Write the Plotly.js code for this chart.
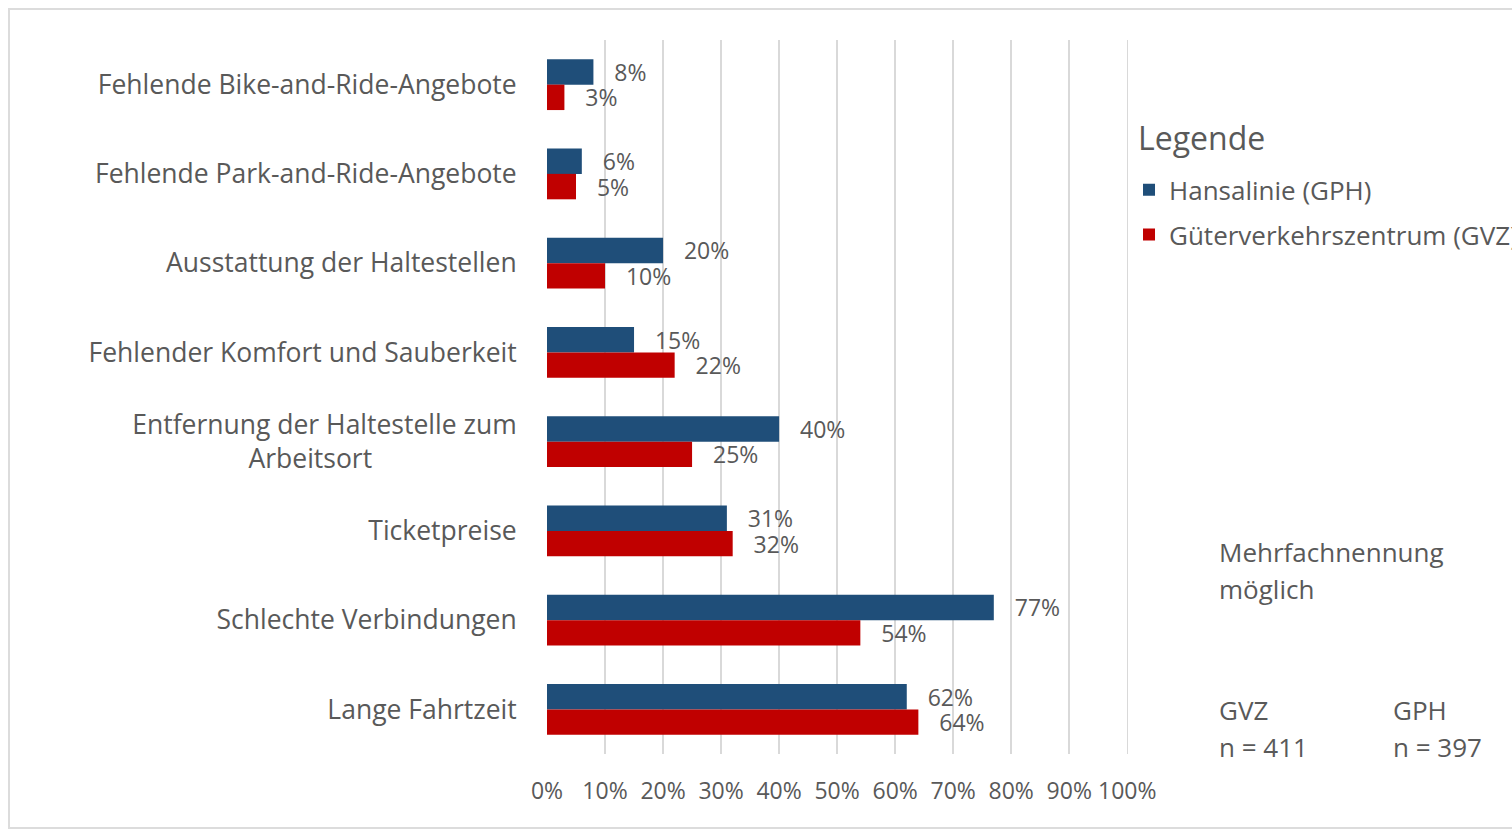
<!DOCTYPE html>
<html>
<head>
<meta charset="utf-8">
<script src="https://cdn.plot.ly/plotly-3.0.1.min.js"></script>
<style>
  body { margin: 0; background: #fff; }
  #plot { width: 1512px; height: 829px; }
  #frame {
    position: absolute; left: 8px; top: 8px; width: 1520px; height: 817px;
    border: 2px solid #dcdcdc; pointer-events: none;
  }
</style>
</head>
<body>
<div id="plot"></div>
<div id="frame"></div>
<script>
// categories, top to bottom
var categories = [
  "Fehlende Bike-and-Ride-Angebote",
  "Fehlende Park-and-Ride-Angebote",
  "Ausstattung der Haltestellen",
  "Fehlender Komfort und Sauberkeit",
  "Entfernung der Haltestelle zum Arbeitsort",
  "Ticketpreise",
  "Schlechte Verbindungen",
  "Lange Fahrtzeit"
];

// shown tick text (long label wraps onto two lines)
var tickLabels = [
  "Fehlende Bike-and-Ride-Angebote",
  "Fehlende Park-and-Ride-Angebote",
  "Ausstattung der Haltestellen",
  "Fehlender Komfort und Sauberkeit",
  "Entfernung der Haltestelle zum<br>Arbeitsort" + "\u00a0".repeat(21),
  "Ticketpreise",
  "Schlechte Verbindungen",
  "Lange Fahrtzeit"
];

var gphValues = [0.08, 0.06, 0.20, 0.15, 0.40, 0.31, 0.77, 0.62];  // Hansalinie (GPH)
var gvzValues = [0.03, 0.05, 0.10, 0.22, 0.25, 0.32, 0.54, 0.64];  // Güterverkehrszentrum (GVZ)

var xTicks = [0, 0.1, 0.2, 0.3, 0.4, 0.5, 0.6, 0.7, 0.8, 0.9, 1.0];

var grey = "#595959";
var font = "'Open Sans', sans-serif";

var pad = "\u00a0\u00a0\u00a0";

// Hansalinie trace
var trace1 = {
  y: categories,
  x: gphValues,
  name: "Hansalinie (GPH)",
  legendgroup: "gph",
  type: "bar",
  orientation: "h",
  marker: { color: "#1f4e79" },
  texttemplate: pad + "%{x:.0%}",
  textposition: "outside",
  constraintext: "none",
  cliponaxis: false,
  textfont: { family: font, size: 23, color: grey },
  hoverinfo: "skip"
};

// Güterverkehrszentrum trace
var trace2 = {
  y: categories,
  x: gvzValues,
  name: "Güterverkehrszentrum (GVZ)",
  legendgroup: "gvz",
  type: "bar",
  orientation: "h",
  marker: { color: "#c00000" },
  texttemplate: pad + "%{x:.0%}",
  textposition: "outside",
  constraintext: "none",
  cliponaxis: false,
  textfont: { family: font, size: 23, color: grey },
  hoverinfo: "skip"
};

var data = [trace1, trace2];

var noteFont = { family: font, size: 26, color: grey };

// side notes
function note(x, y, text) {
  return { xref: "paper", yref: "paper", x: x, y: y, xanchor: "left", yanchor: "middle",
           align: "left", showarrow: false, text: text, font: noteFont };
}

var layout = {
  width: 1512,
  height: 829,
  margin: { l: 547, r: 382, t: 40, b: 75 },
  paper_bgcolor: "#fff",
  plot_bgcolor: "#fff",
  font: { family: font, color: grey },
  barmode: "group",
  bargap: 0.43,
  bargroupgap: 0,
  showlegend: true,
  legend: {
    xref: "container", yref: "container",
    x: 0.7467, xanchor: "left",
    y: 0.7993, yanchor: "top",
    traceorder: "grouped",
    tracegroupgap: 8,
    font: { family: font, size: 26, color: grey }
  },
  xaxis: {
    range: [0, 1.003],
    tickvals: xTicks,
    tickformat: ".0%",
    tickangle: 0,
    showgrid: true,
    gridcolor: "#d9d9d9",
    gridwidth: 1.5,
    zeroline: false,
    showline: false,
    ticks: "outside",
    ticklen: 16,
    tickcolor: "rgba(0,0,0,0)",
    tickfont: { family: font, size: 23, color: grey },
    fixedrange: true
  },
  yaxis: {
    autorange: "reversed",
    tickvals: categories,
    ticktext: tickLabels,
    ticks: "outside",
    ticklen: 24,
    tickcolor: "rgba(0,0,0,0)",
    tickfont: { family: font, size: 26.5, color: grey },
    showgrid: false,
    zeroline: false,
    showline: false,
    fixedrange: true
  },
  annotations: [
    { xref: "paper", yref: "paper", x: 1.012, y: 0.864, xanchor: "left", yanchor: "middle",
      showarrow: false, text: "Legende", font: { family: font, size: 32, color: grey } },
    note(1.151, 0.283, "Mehrfachnennung"),
    note(1.151, 0.231, "möglich"),
    note(1.151, 0.0616, "GVZ"),
    note(1.151, 0.0098, "n = 411"),
    note(1.4502, 0.0616, "GPH"),
    note(1.4502, 0.0098, "n = 397")
  ]
};

Plotly.newPlot("plot", data, layout, { displayModeBar: false, staticPlot: true });
</script>
</body>
</html>
